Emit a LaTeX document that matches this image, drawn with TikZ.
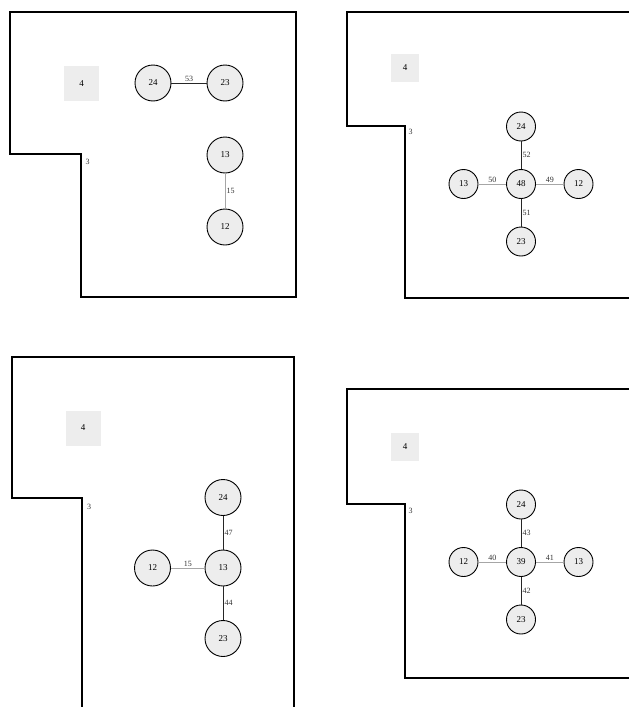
\documentclass[tikz,border=0pt]{standalone}
\usepackage{fontspec}
\setmainfont{Liberation Serif}
\usetikzlibrary{positioning}

\begin{document}
\begin{tikzpicture}[
    x=1pt, y=-1pt,
    room/.style={
        draw,
        circle,
        fill=gray!14,
        minimum size=36pt,
        inner sep=0pt,
        line width=0.9pt,
        font=\fontsize{9}{10}\selectfont
    },
    smallroom/.style={room, minimum size=29pt},
    area/.style={fill=gray!14, minimum size=35pt, inner sep=0pt, font=\fontsize{9}{10}\selectfont},
    smallarea/.style={area, minimum size=28pt},
    wall/.style={line width=1.8pt, line join=miter},
    corner/.style={font=\fontsize{8}{9}\selectfont, text=black!80, inner sep=0pt},
    link/.style={draw=black!85, line width=0.8pt},
    weak/.style={draw=black!35, line width=0.8pt},
    tag/.style={font=\fontsize{8}{9}\selectfont, text=black!80, inner sep=1.2pt}
]
\clip (0,0) rectangle (629,707);

\draw[wall] (10,12) -- (296,12) -- (296,297) -- (81,297) -- (81,154) -- (10,154) -- cycle;
\node[area] (aArea) at (81.5,83.5) {4};
\node[corner] (aCorner) at (87.5,162) {3};
\begin{scope}[node distance=72pt]
\node[room] (a24) at (153,83) {24};
\node[room] (a23) [right of=a24] {23};
\node[room] (a13) at (225,155) {13};
\node[room] (a12) [below of=a13] {12};
\end{scope}
\draw[link] (a24) -- node[tag, above] {53} (a23);
\draw[weak] (a13) -- node[tag, right] {15} (a12);

\draw[wall] (347,12) -- (645,12) -- (645,298) -- (405,298) -- (405,126) -- (347,126) -- cycle;
\node[smallarea] (bArea) at (405,68) {4};
\node[corner] (bCorner) at (410.5,132) {3};
\begin{scope}[node distance=57.5pt]
\node[smallroom] (b48) at (521,184) {48};
\node[smallroom] (b24) [above of=b48] {24};
\node[smallroom] (b23) [below of=b48] {23};
\node[smallroom] (b13) [left of=b48] {13};
\node[smallroom] (b12) [right of=b48] {12};
\end{scope}
\draw[link] (b24) -- node[tag, right] {52} (b48);
\draw[link] (b48) -- node[tag, right] {51} (b23);
\draw[weak] (b13) -- node[tag, above] {50} (b48);
\draw[weak] (b48) -- node[tag, above] {49} (b12);

\draw[wall] (12,357) -- (294,357) -- (294,720) -- (82,720) -- (82,498) -- (12,498) -- cycle;
\node[area] (cArea) at (83,428) {4};
\node[corner] (cCorner) at (89,507) {3};
\begin{scope}[node distance=70.5pt]
\node[room] (c13) at (223,568) {13};
\node[room] (c24) [above of=c13] {24};
\node[room] (c23) [below of=c13] {23};
\node[room] (c12) [left of=c13] {12};
\end{scope}
\draw[link] (c24) -- node[tag, right] {47} (c13);
\draw[weak] (c12) -- node[tag, above] {15} (c13);
\draw[link] (c13) -- node[tag, right] {44} (c23);

\draw[wall] (347,389) -- (645,389) -- (645,678) -- (405,678) -- (405,504) -- (347,504) -- cycle;
\node[smallarea] (dArea) at (405,447) {4};
\node[corner] (dCorner) at (410.5,511) {3};
\begin{scope}[node distance=57.5pt]
\node[smallroom] (d39) at (521,562) {39};
\node[smallroom] (d24) [above of=d39] {24};
\node[smallroom] (d23) [below of=d39] {23};
\node[smallroom] (d12) [left of=d39] {12};
\node[smallroom] (d13) [right of=d39] {13};
\end{scope}
\draw[link] (d24) -- node[tag, right] {43} (d39);
\draw[link] (d39) -- node[tag, right] {42} (d23);
\draw[weak] (d12) -- node[tag, above] {40} (d39);
\draw[weak] (d39) -- node[tag, above] {41} (d13);

\end{tikzpicture}
\end{document}
